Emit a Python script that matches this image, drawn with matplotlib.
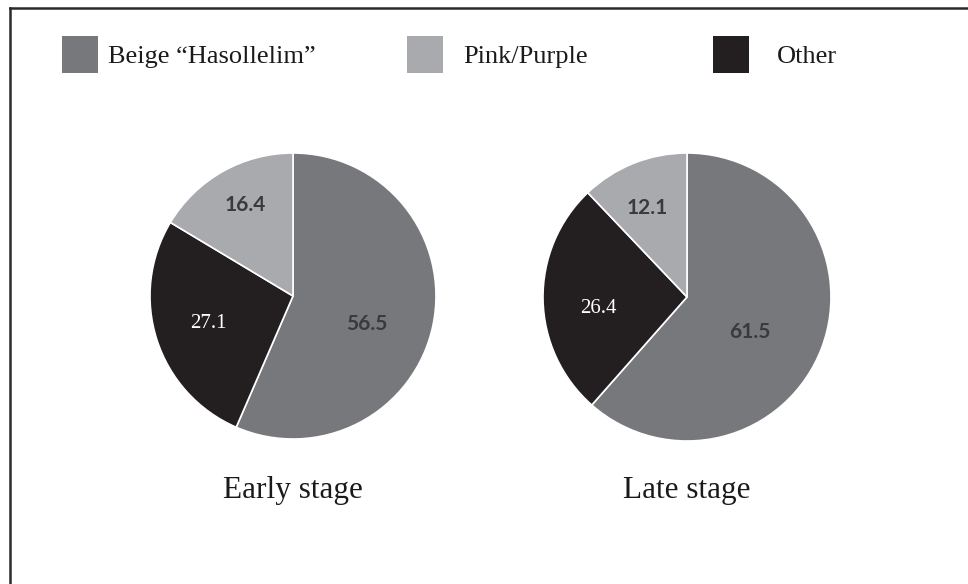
import numpy as np
import matplotlib.pyplot as plt
from matplotlib.patches import Rectangle
from matplotlib.lines import Line2D

# data
categories = ['Beige \u201cHasollelim\u201d', 'Pink/Purple', 'Other']
early = [56.5, 16.4, 27.1]
late = [61.5, 12.1, 26.4]
stages = ['Early stage', 'Late stage']
colors = ['#77787b', '#a9aaad', '#231f20']

# wedge order clockwise from top: beige, other, pink
order = [0, 2, 1]

W, H = 968, 584
fig = plt.figure(figsize=(W / 100, H / 100), dpi=100)

def px_axes(cx, cy, r):
  return fig.add_axes([(cx - r) / W, (H - cy - r) / H, 2 * r / W, 2 * r / H])

# label placement per stage and category: distance, angle shift
lab_dist = [[0.55, 0.72, 0.62], [0.50, 0.68, 0.62]]
lab_shift = [[-9, -1.7, 0], [-8.3, 2.2, 6]]

centers = [(293, 296, 143), (687, 297, 144)]
for k, vals in enumerate([early, late]):
  cx, cy, r = centers[k]
  ax = px_axes(cx, cy, r)
  v = [vals[i] for i in order]
  c = [colors[i] for i in order]
  wedges, _ = ax.pie(v, colors=c, startangle=90, counterclock=False,
                     wedgeprops=dict(edgecolor='white', linewidth=1.2))
  for w, i in zip(wedges, order):
    ang = np.deg2rad((w.theta1 + w.theta2) / 2 + lab_shift[k][i])
    d = lab_dist[k][i]
    if i == 2:
      ax.text(d * np.cos(ang), d * np.sin(ang), '%.1f' % vals[i],
              ha='center', va='center', family='Liberation Serif',
              color='white', fontsize=15)
    else:
      ax.text(d * np.cos(ang), d * np.sin(ang), '%.1f' % vals[i],
              ha='center', va='center', family='Lato', fontweight='bold',
              color='#3a3a3c', fontsize=15)
  ax.set_xlim(-1, 1)
  ax.set_ylim(-1, 1)
  ax.set_aspect('equal')
  ax.axis('off')
  fig.text(cx / W, (H - 498) / H, stages[k], ha='center', va='baseline',
           family='Liberation Serif', fontsize=22.5, color='#1a1a1a')

# legend
leg_x = [62, 407, 713]
txt_off = [46, 56, 64]
for i, name in enumerate(categories):
  x0 = leg_x[i]
  fig.add_artist(Rectangle((x0 / W, (H - 73) / H), 36 / W, 37 / H,
                           transform=fig.transFigure, facecolor=colors[i],
                           edgecolor='none'))
  fig.text((x0 + txt_off[i]) / W, (H - 63) / H, name,
           ha='left', va='baseline', family='Liberation Serif',
           fontsize=19, color='#1a1a1a')

# frame (top and left visible)
fig.add_artist(Line2D([10 / W, 1], [1 - 8 / H, 1 - 8 / H],
                      transform=fig.transFigure, color='#2a2a2a', lw=1.8))
fig.add_artist(Line2D([10 / W, 10 / W], [0, 1 - 8 / H],
                      transform=fig.transFigure, color='#2a2a2a', lw=1.8))

fig.savefig('out.png', dpi=100)
